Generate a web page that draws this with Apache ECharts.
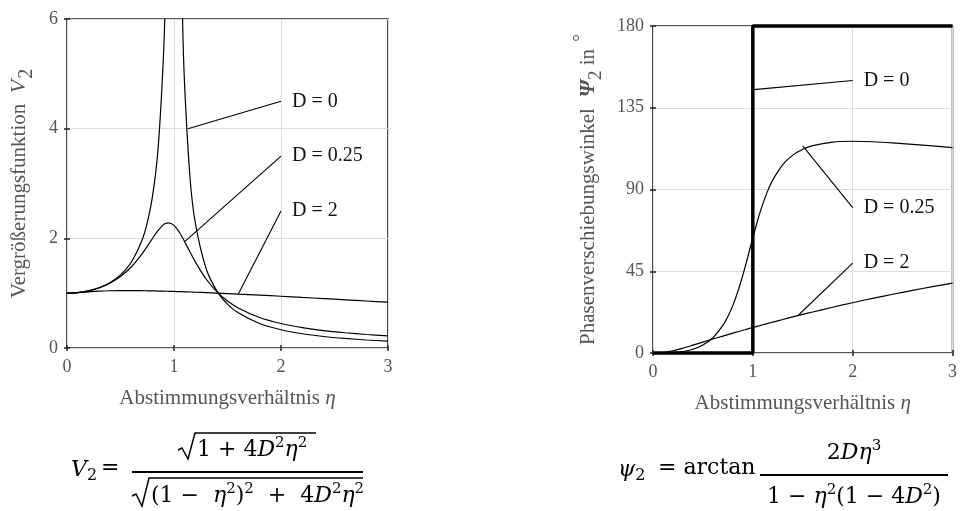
<!DOCTYPE html>
<html>
<head>
<meta charset="utf-8">
<script src="https://cdn.jsdelivr.net/npm/echarts@6/dist/echarts.min.js"></script>
<style>
  html, body { margin: 0; padding: 0; background: #fff; }
  #chart { width: 960px; height: 511px; }
</style>
</head>
<body>
<div id="chart"></div>
<script>
// Abstimmungsverhältnis eta (shared x values)
const eta = [0, 0.1, 0.2, 0.3, 0.4, 0.5, 0.6, 0.7, 0.75, 0.8, 0.85, 0.9, 0.92, 0.95, 1.0,
  1.05, 1.08, 1.1, 1.15, 1.2, 1.3, 1.4, 1.5, 1.6, 1.8, 2.0, 2.2, 2.4, 2.6, 2.8, 3.0]

// Vergrößerungsfunktion V2
const vD0 = [1.0, 1.01, 1.042, 1.099, 1.19, 1.333, 1.563, 1.961, 2.286, 2.778, 3.604, 5.263, 6.51, 10.26, null,
  9.756, 6.01, 4.762, 3.101, 2.273, 1.449, 1.042, 0.8, 0.641, 0.446, 0.333, 0.26, 0.21, 0.174, 0.146, 0.125]
const vD025 = [1.0, 1.01, 1.041, 1.096, 1.181, 1.304, 1.477, 1.713, 1.854, 2.001, 2.141, 2.245, 2.27, 2.283, 2.236,
  2.111, 2.011, 1.939, 1.75, 1.567, 1.258, 1.027, 0.858, 0.731, 0.557, 0.447, 0.372, 0.318, 0.278, 0.246, 0.222]
const vD2 = [1.0, 1.009, 1.025, 1.037, 1.044, 1.047, 1.047, 1.045, 1.043, 1.041, 1.039, 1.036, 1.035, 1.034, 1.031,
  1.028, 1.026, 1.024, 1.021, 1.017, 1.01, 1.001, 0.993, 0.983, 0.964, 0.944, 0.922, 0.901, 0.879, 0.857, 0.835]

// Phasenverschiebungswinkel psi2 in degrees (right plot)
const psiD025 = [0, 0.03, 0.24, 0.83, 2.08, 4.4, 8.42, 15.17, 20.04, 26.21, 33.83, 42.88, 46.83, 52.99, 63.43,
  73.35, 78.76, 82.09, 89.39, 95.29, 103.69, 108.91, 112.17, 114.19, 116.12, 116.57, 116.29, 115.66, 114.85, 113.97, 113.07]
const psiD2 = [0, 0.2, 1.15, 2.63, 4.31, 6.01, 7.69, 9.33, 10.14, 10.94, 11.72, 12.5, 12.81, 13.28, 14.04,
  14.79, 15.24, 15.54, 16.28, 17.01, 18.44, 19.86, 21.23, 22.58, 25.19, 27.68, 30.06, 32.32, 34.47, 36.51, 38.45]
const psiD0Eta = [0, 1, 1, 3]
const psiD0 = [0, 0, 180, 180]

// tick labels
const xTicks = [0, 1, 2, 3]
const vTicks = [0, 2, 4, 6]
const psiTicks = [0, 45, 90, 135, 180]

// leader lines: [label, etaFrom, valueFrom, etaTo, valueTo]
const leadersV = [
  ['D = 0', 1.13, 4.0, 2.0, 4.5],
  ['D = 0.25', 1.1, 1.94, 2.0, 3.5],
  ['D = 2', 1.6, 0.98, 2.0, 2.5],
]
const leadersPsi = [
  ['D = 0', 1.01, 145, 2.0, 150],
  ['D = 0.25', 1.5, 114, 2.0, 80],
  ['D = 2', 1.45, 20.5, 2.0, 49.5],
]

const serif = 'Liberation Serif'
const mathFont = 'DejaVu Serif'
const labelGrey = '#555'
const frame = '#222'

const chart = echarts.init(document.getElementById('chart'))

const pairs = (xs, ys) => xs.map((x, i) => [x, ys[i]])

function curve(data, xi, width) {
  return {
    type: 'line', xAxisIndex: xi, yAxisIndex: xi, data,
    showSymbol: false, smooth: 0.3, connectNulls: false,
    lineStyle: { color: '#000', width: width || 1.2 }, silent: true, z: 3,
  }
}

function leader(l, xi) {
  return {
    type: 'line', xAxisIndex: xi, yAxisIndex: xi,
    data: [[l[1], l[2]], [l[3], l[4]]],
    showSymbol: false, silent: true, clip: false,
    lineStyle: { color: '#000', width: 1.1 },
    endLabel: { show: true, formatter: l[0], distance: 11, color: '#111', fontFamily: serif, fontSize: 20 },
  }
}

function xAx(gi, pos, show) {
  return {
    gridIndex: gi, type: 'value', min: 0, max: 3, interval: 1, position: pos,
    name: show ? '{n|Abstimmungsverhältnis }{i|η}' : '', nameLocation: 'middle', nameGap: 40,
    nameTextStyle: { rich: {
      n: { fontFamily: serif, fontSize: 21, color: labelGrey },
      i: { fontFamily: serif, fontSize: 21, fontStyle: 'italic', color: labelGrey },
    } },
    axisLine: { show: false },
    axisTick: { show: true, inside: true, length: 3, lineStyle: { color: frame, width: 1.5 } },
    axisLabel: { show: show, color: labelGrey, fontFamily: serif, fontSize: 18, margin: 10,
      formatter: v => xTicks.includes(v) ? String(v) : '' },
    splitLine: { show: show, lineStyle: { color: '#dcdcdc', width: 1 } },
  }
}

function yAx(gi, pos, show, max, interval, ticks, name, rich, gap) {
  return {
    gridIndex: gi, type: 'value', min: 0, max, interval, position: pos,
    name: show ? name : '', nameLocation: 'middle', nameGap: gap, nameRotate: 90,
    nameTextStyle: { rich },
    axisLine: { show: false },
    axisTick: { show: true, inside: true, length: 3, lineStyle: { color: frame, width: 1.5 } },
    axisLabel: { show: show, color: labelGrey, fontFamily: serif, fontSize: 18, margin: 9,
      formatter: v => ticks.includes(v) ? String(v) : '' },
    splitLine: { show: show, lineStyle: { color: '#dcdcdc', width: 1 } },
  }
}

const richV = {
  n: { fontFamily: serif, fontSize: 21, color: labelGrey },
  i: { fontFamily: serif, fontSize: 22, fontStyle: 'italic', color: labelGrey },
  s: { fontFamily: serif, fontSize: 20, color: labelGrey, padding: [16, 0, 0, 1] },
}
const richPsi = {
  n: { fontFamily: serif, fontSize: 21, color: labelGrey },
  b: { fontFamily: serif, fontSize: 22, fontStyle: 'italic', fontWeight: 'bold', color: labelGrey },
  s: { fontFamily: serif, fontSize: 19, color: labelGrey, padding: [16, 0, 0, 0] },
  p: { fontFamily: serif, fontSize: 19, color: labelGrey, padding: [0, 0, 14, 2] },
}

// formula text styles
const fs = 22
const fr = {
  n: { fontFamily: mathFont, fontSize: fs, fill: '#000' },
  i: { fontFamily: mathFont, fontSize: fs, fontStyle: 'italic', fill: '#000' },
  p: { fontFamily: mathFont, fontSize: 15, fill: '#000', padding: [0, 0, 13, 0] },
  s: { fontFamily: mathFont, fontSize: 16, fill: '#000', padding: [12, 0, 0, 0] },
}
function ftext(x, y, text, align) {
  return { type: 'text', x, y, style: { text, rich: fr, align: align || 'left', verticalAlign: 'middle',
    fontFamily: mathFont, fontSize: fs, fill: '#000' } }
}
function fline(points, w) {
  return { type: 'polyline', shape: { points }, style: { stroke: '#000', lineWidth: w || 1.6, fill: null } }
}

chart.setOption({
  animation: false,
  grid: [
    { left: 67, top: 19, width: 321, height: 329, show: true, borderColor: frame, borderWidth: 1.6, backgroundColor: 'transparent' },
    { left: 653, top: 26, width: 303, height: 327, show: true, borderColor: frame, borderWidth: 1.6, backgroundColor: 'transparent' },
  ],
  xAxis: [xAx(0, 'bottom', true), xAx(1, 'bottom', true), xAx(0, 'top', false), xAx(1, 'top', false)],
  yAxis: [
    yAx(0, 'left', true, 6, 2, vTicks, '{n|Vergrößerungsfunktion  }{i|V}{s|2}', richV, 30),
    yAx(1, 'left', true, 180, 45, psiTicks, '{n|Phasenverschiebungswinkel  }{b|Ψ}{s|2}{n| in }{p|°}', richPsi, 47),
    yAx(0, 'right', false, 6, 2, vTicks, '', {}, 0),
    yAx(1, 'right', false, 180, 45, psiTicks, '', {}, 0),
  ],
  series: [
    curve(pairs(eta, vD0), 0),
    curve(pairs(eta, vD025), 0),
    curve(pairs(eta, vD2), 0),
    curve(pairs(eta, psiD025), 1),
    curve(pairs(eta, psiD2), 1),
    Object.assign(curve(pairs(psiD0Eta, psiD0), 1, 3.5), { smooth: false, clip: false, z: 5 }),
    ...leadersV.map(l => leader(l, 0)),
    ...leadersPsi.map(l => leader(l, 1)),
  ],
  graphic: [
    // V2 = sqrt(1 + 4D²η²) / sqrt((1 − η²)² + 4D²η²)
    ftext(71, 470, '{i|V}{s|2}'),
    ftext(101, 468, '{n|=}'),
    fline([[132, 472], [363, 472]], 2),
    fline([[178, 450], [182, 448], [188, 459], [195, 433], [316, 433]], 1.5),
    ftext(197, 450, '{n|1 + 4}{i|D}{p|2}{i|η}{p|2}'),
    fline([[132, 496], [136, 494], [142, 506], [149, 478], [363, 478]], 1.5),
    ftext(151, 496, '{n|(1 −  }{i|η}{p|2}{n|)}{p|2}{n|  +  4}{i|D}{p|2}{i|η}{p|2}'),
    // psi2 = arctan 2Dη³ / (1 − η²(1 − 4D²))
    ftext(618, 470, '{i|ψ}{s|2}'),
    ftext(658, 468, '{n|= arctan}'),
    fline([[760, 475], [948, 475]], 2),
    ftext(854, 453, '{n|2}{i|Dη}{p|3}', 'center'),
    ftext(854, 497, '{n|1 − }{i|η}{p|2}{n|(1 − 4}{i|D}{p|2}{n|)}', 'center'),
  ],
})
</script>
</body>
</html>
